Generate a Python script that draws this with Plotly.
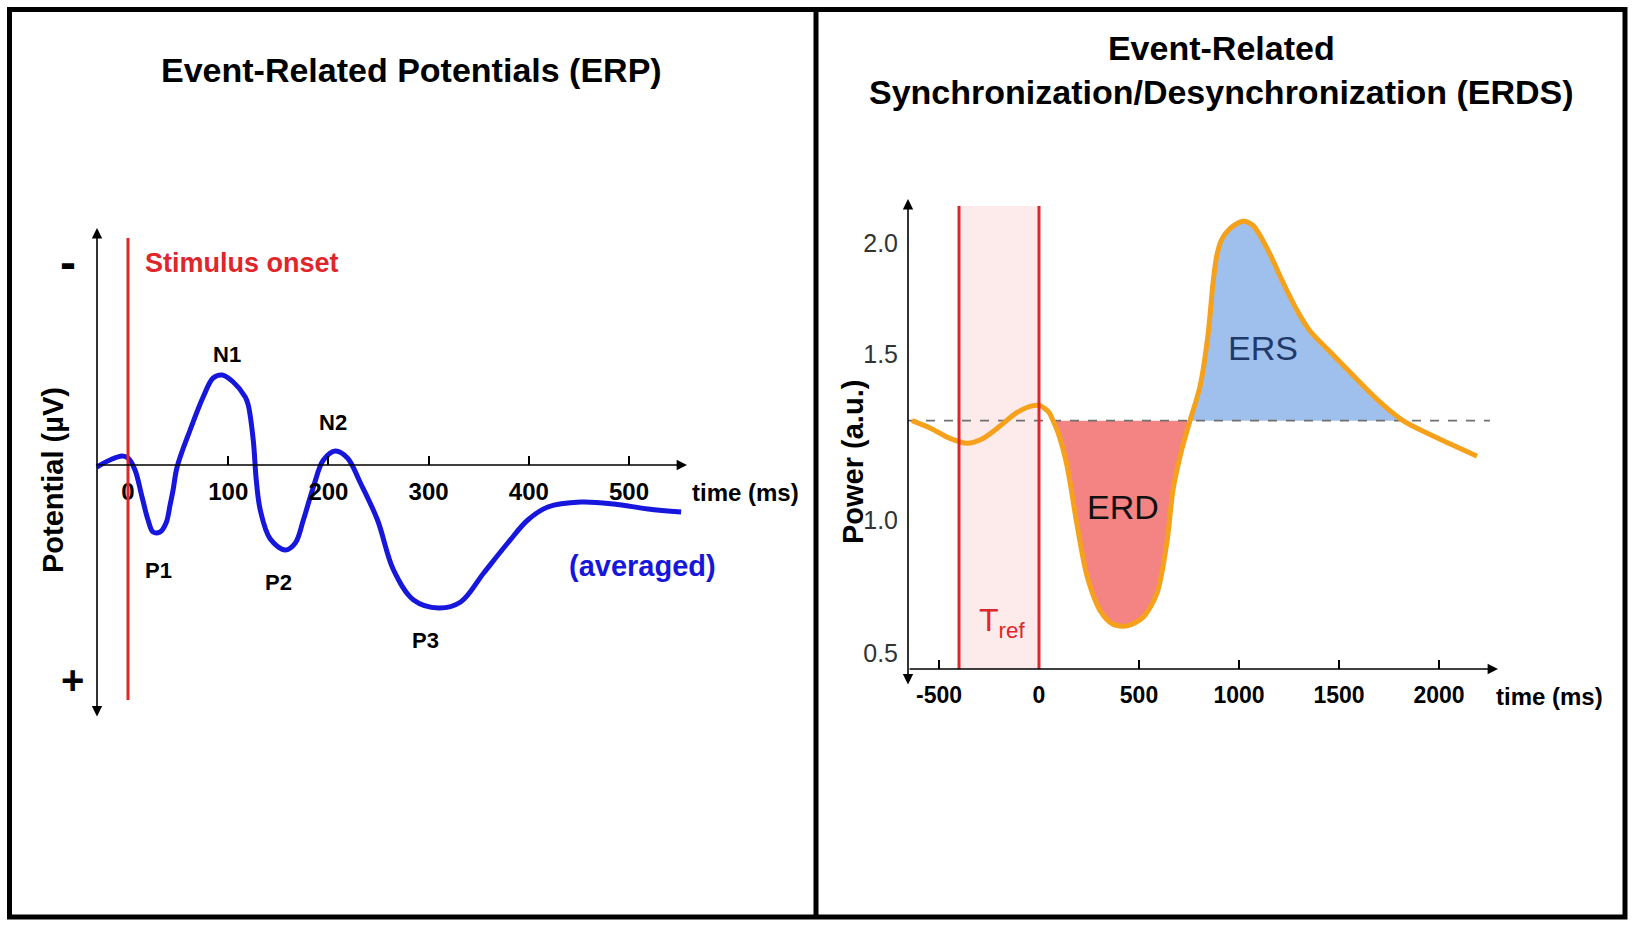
import numpy as np
import plotly.graph_objects as go

# ---- ERP panel data (time in ms, potential in uV, negative drawn upward) ----
erp_time = [-31, -18, -6, 0, 7, 14, 20, 25, 32, 38, 42, 45, 49, 62, 75, 85, 94, 105, 117, 120,
            125, 128, 132, 142, 157, 167, 175, 185, 195, 207, 219, 232, 249, 265, 285, 310, 332,
            355, 379, 399, 419, 452, 485, 519, 552]
erp_uv = [0.1, -0.25, -0.45, -0.35, 0.25, 1.6, 2.75, 3.35, 3.35, 2.9, 2.0, 1.25, 0.1, -1.75, -3.4,
          -4.35, -4.5, -4.15, -3.4, -3.0, -1.25, 0.75, 2.25, 3.7, 4.25, 3.9, 2.75, 1.1, -0.25, -0.7,
          -0.35, 0.9, 2.75, 5.25, 6.75, 7.15, 6.85, 5.4, 3.9, 2.75, 2.1, 1.85, 1.95, 2.2, 2.35]
erp_ticks = [0, 100, 200, 300, 400, 500]
erp_peaks = ["N1", "N2", "P1", "P2", "P3"]
stim_onset = 0

# ---- ERDS panel data (time in ms, power in a.u.) ----
erds_time = [-635, -545, -445, -360, -280, -195, -110, -30, 5, 50, 70, 95, 140, 190, 240, 305, 370,
             440, 520, 590, 640, 670, 715, 755, 805, 845, 870, 890, 915, 955, 1020, 1070, 1140,
             1220, 1290, 1355, 1455, 1555, 1690, 1820, 1955, 2190]
erds_power = [1.35, 1.323, 1.285, 1.267, 1.285, 1.33, 1.38, 1.405, 1.405, 1.38, 1.35, 1.307,
              1.185, 0.97, 0.782, 0.656, 0.605, 0.599, 0.63, 0.719, 0.907, 1.097, 1.248, 1.35,
              1.475, 1.663, 1.853, 1.958, 2.015, 2.053, 2.08, 2.064, 1.981, 1.856, 1.754, 1.678,
              1.602, 1.527, 1.428, 1.35, 1.299, 1.22]
baseline = 1.35
tref = [-400, 0]
erd_window = [70, 755]
ers_window = [755, 1820]
erds_xticks = [-500, 0, 500, 1000, 1500, 2000]
erds_xtext = ["-500", "0", "500", "1000", "1500", "2000"]
erds_yticks = [2.0, 1.594, 0.987, 0.5]
erds_ytext = ["2.0", "1.5", "1.0", "0.5"]

W, H = 1633, 926
FONT = "Liberation Sans, Arial, sans-serif"


def fx(p):
    return p / W


def fy(p):
    return 1 - p / H


# pixel anchors of the two coordinate systems
k1 = (629 - 128) / 500.0          # ERP px per ms, 0 ms at px 128
u1 = 20.0                         # ERP px per uV, 0 uV at py 465


def erp_t(px):
    return (px - 128) / k1


def erp_v(py):
    return (py - 465) / u1


k2 = 0.2                          # ERDS px per ms, 0 ms at px 1039
u2 = 273.3                        # ERDS px per a.u., 2.0 at py 243


def erds_t(px):
    return (px - 1039) / k2


def erds_p(py):
    return 2.0 - (py - 243) / u2


erp_xr = [erp_t(60), erp_t(780)]
erp_yr = [erp_v(760), erp_v(200)]
erds_xr = [erds_t(908), erds_t(1520)]
erds_yr = [erds_p(669), erds_p(190)]

fig = go.Figure()

fig.add_trace(go.Scatter(x=erp_time, y=erp_uv, mode="lines", xaxis="x", yaxis="y",
                         line=dict(color="#1616dc", width=5, shape="spline", smoothing=1.0),
                         hoverinfo="skip", showlegend=False))

t = np.array(erds_time)
p = np.array(erds_power)
m_erd = (t >= erd_window[0]) & (t <= erd_window[1])
m_ers = (t >= ers_window[0]) & (t <= ers_window[1])
fig.add_trace(go.Scatter(x=t[m_erd], y=p[m_erd], mode="lines", fill="toself", fillcolor="#f48383",
                         line=dict(width=0, shape="spline", smoothing=0.8), xaxis="x2", yaxis="y2",
                         hoverinfo="skip", showlegend=False))
fig.add_trace(go.Scatter(x=t[m_ers], y=p[m_ers], mode="lines", fill="toself", fillcolor="#9fc0ec",
                         line=dict(width=0, shape="spline", smoothing=0.8), xaxis="x2", yaxis="y2",
                         hoverinfo="skip", showlegend=False))
fig.add_trace(go.Scatter(x=[erds_xr[0], erds_t(1490)], y=[baseline, baseline], mode="lines",
                         line=dict(color="#707070", width=1.6, dash="dash"), xaxis="x2", yaxis="y2",
                         hoverinfo="skip", showlegend=False))
fig.add_trace(go.Scatter(x=erds_time, y=erds_power, mode="lines", xaxis="x2", yaxis="y2",
                         line=dict(color="#f5a11c", width=5, shape="spline", smoothing=0.8),
                         hoverinfo="skip", showlegend=False))

red = "#e0262a"
band_top = erds_p(206)
shapes = [
    # T_ref band
    dict(type="rect", xref="x2", yref="y2", x0=tref[0], x1=tref[1], y0=erds_yr[0], y1=band_top,
         fillcolor="#fdeaea", line=dict(width=0), layer="below"),
    dict(type="line", xref="x2", yref="y2", x0=tref[0], x1=tref[0], y0=erds_yr[0], y1=band_top,
         line=dict(color=red, width=3)),
    dict(type="line", xref="x2", yref="y2", x0=tref[1], x1=tref[1], y0=erds_yr[0], y1=band_top,
         line=dict(color=red, width=3)),
    # stimulus onset
    dict(type="line", xref="x", yref="y", x0=stim_onset, x1=stim_onset,
         y0=erp_v(238), y1=erp_v(700), line=dict(color=red, width=3)),
    # panel frames
    dict(type="rect", xref="paper", yref="paper", x0=fx(9.5), x1=fx(1625), y0=fy(917), y1=fy(9.5),
         line=dict(color="black", width=5)),
    dict(type="line", xref="paper", yref="paper", x0=fx(816), x1=fx(816), y0=fy(917), y1=fy(9.5),
         line=dict(color="black", width=5)),
]


def arrow(xr, yr, x, y, ax, ay, both=False):
    d = dict(xref=xr, yref=yr, axref=xr, ayref=yr, x=x, y=y, ax=ax, ay=ay, text="",
             showarrow=True, arrowhead=2, arrowsize=1.3, arrowwidth=1.6, arrowcolor="black")
    if both:
        d.update(arrowside="end+start", startarrowhead=2, startarrowsize=1.3)
    return d


def label(x, y, text, size, color="black", bold=True, xref="paper", yref="paper", angle=0,
          xanchor="center"):
    return dict(xref=xref, yref=yref, x=x, y=y, text=text, showarrow=False, textangle=angle,
                xanchor=xanchor, yanchor="middle",
                font=dict(family=FONT, size=size, color=color, weight="bold" if bold else "normal"))


erp_x0 = erp_t(97)
annotations = [
    arrow("x", "y", erp_t(687), 0, erp_x0, 0),
    arrow("x", "y", erp_x0, erp_v(228), erp_x0, erp_v(718), both=True),
    arrow("x2", "y2", erds_t(1498), erds_yr[0], erds_xr[0], erds_yr[0]),
    arrow("x2", "y2", erds_xr[0], erds_p(199), erds_xr[0], erds_p(686), both=True),
    label(fx(411), fy(70), "Event-Related Potentials (ERP)", 34),
    label(fx(1221), fy(70), "Event-Related<br>Synchronization/Desynchronization (ERDS)", 34),
    label(fx(53), fy(480), "Potential (µV)", 29, angle=-90),
    label(fx(68), fy(262), "-", 48),
    label(fx(72), fy(680), "+", 40),
    label(fx(745), fy(492), "time (ms)", 24),
    label(fx(143), fy(263), "Stimulus onset", 27, color=red, xanchor="left"),
    label(fx(642), fy(566), "(averaged)", 29, color="#1616dc"),
    label(fx(853), fy(462), "Power (a.u.)", 29, angle=-90),
    label(fx(1549), fy(696), "time (ms)", 24),
    label(fx(1123), fy(507), "ERD", 34, bold=False, color="#111111"),
    label(fx(1263), fy(348), "ERS", 34, bold=False, color="#1f3a68"),
    label(fx(1002), fy(622), "T<sub>ref</sub>", 32, bold=False, color=red),
]
peak_pos = {"N1": (227, 355), "N2": (333, 423), "P1": (158, 570), "P2": (278, 582), "P3": (425, 640)}
for name in erp_peaks:
    px_, py_ = peak_pos[name]
    annotations.append(label(erp_t(px_), erp_v(py_), name, 22, xref="x", yref="y"))

fig.update_layout(
    width=W, height=H, margin=dict(l=0, r=0, t=0, b=0),
    paper_bgcolor="white", plot_bgcolor="rgba(0,0,0,0)",
    font=dict(family=FONT, color="black"),
    showlegend=False,
    xaxis=dict(domain=[fx(60), fx(780)], range=erp_xr, anchor="free", position=fy(465),
               tickvals=erp_ticks, ticks="inside", ticklen=9, tickwidth=1.5, tickcolor="black",
               showline=False, showgrid=False, zeroline=False, ticklabelstandoff=10,
               tickfont=dict(family=FONT, size=24, color="black", weight="bold")),
    yaxis=dict(domain=[fy(760), fy(200)], range=erp_yr, visible=False, anchor="x"),
    xaxis2=dict(domain=[fx(908), fx(1520)], range=erds_xr, anchor="y2",
                tickvals=erds_xticks, ticktext=erds_xtext, ticks="inside", ticklen=9,
                tickwidth=1.5, tickcolor="black", showline=False, showgrid=False, zeroline=False,
                ticklabelstandoff=10,
                tickfont=dict(family=FONT, size=23, color="black", weight="bold")),
    yaxis2=dict(domain=[fy(669), fy(190)], range=erds_yr, anchor="x2",
                tickvals=erds_yticks, ticktext=erds_ytext, ticks="", showline=False,
                showgrid=False, zeroline=False, ticklabelstandoff=9,
                tickfont=dict(family=FONT, size=25, color="#333333")),
    shapes=shapes,
    annotations=annotations,
)

fig.write_html("out.html", config={"displayModeBar": False},
               post_script="document.body.style.margin='0';")
